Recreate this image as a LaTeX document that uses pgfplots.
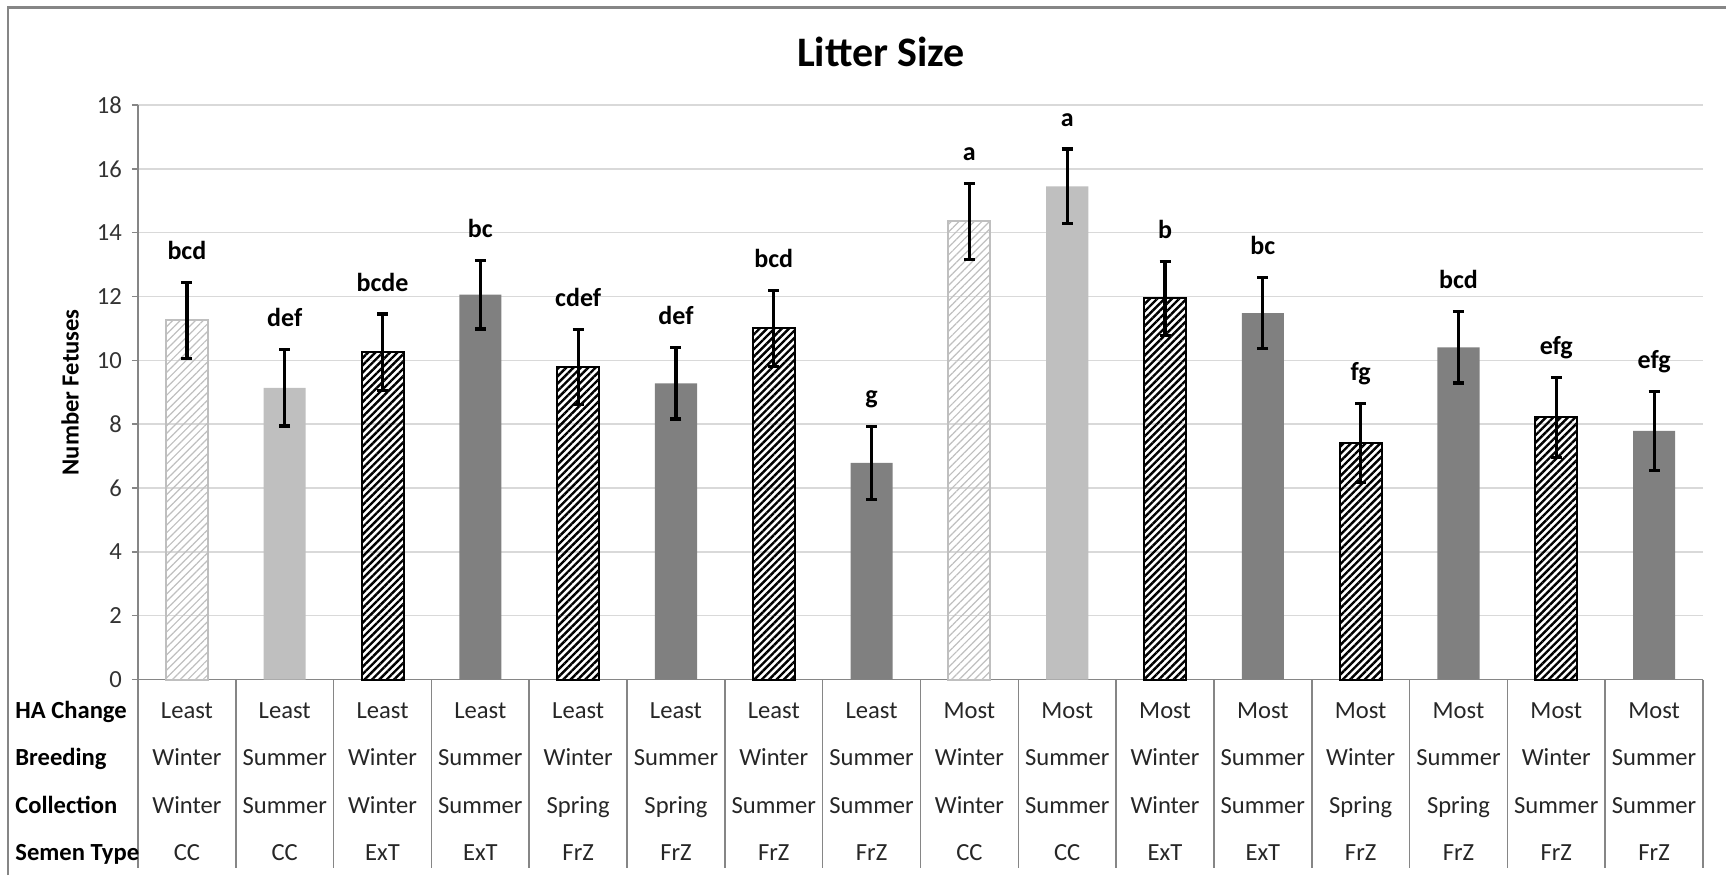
\documentclass[border=0pt]{standalone}
\usepackage{pgfplots}
\pgfplotsset{compat=1.18}
\usepackage{pgfplotstable}
\usepackage{fontspec}
\setmainfont{Carlito}
\usetikzlibrary{patterns.meta}
\definecolor{lgray}{HTML}{BFBFBF}
\definecolor{dgray}{HTML}{808080}
\definecolor{gridc}{HTML}{D9D9D9}
\definecolor{axisc}{HTML}{868686}

\pgfplotstableread{
x val err lab ha br co st
0 11.25 1.20 bcd Least Winter Winter CC
1 9.14 1.20 def Least Summer Summer CC
2 10.25 1.20 bcde Least Winter Winter ExT
3 12.06 1.08 bc Least Summer Summer ExT
4 9.79 1.17 cdef Least Winter Spring FrZ
5 9.28 1.12 def Least Summer Spring FrZ
6 11.00 1.20 bcd Least Winter Summer FrZ
7 6.79 1.14 g Least Summer Summer FrZ
8 14.36 1.19 a Most Winter Winter CC
9 15.45 1.17 a Most Summer Summer CC
10 11.94 1.15 b Most Winter Winter ExT
11 11.48 1.11 bc Most Summer Summer ExT
12 7.41 1.24 fg Most Winter Spring FrZ
13 10.41 1.12 bcd Most Summer Spring FrZ
14 8.21 1.26 efg Most Winter Summer FrZ
15 7.79 1.24 efg Most Summer Summer FrZ
}\datatable

\pgfplotsset{
  errs/.style={error bars/.cd, y dir=both, y explicit,
    error bar style={line width=1.6pt, black},
    error mark options={rotate=90, mark size=2.75pt, line width=1.6pt, black}},
  rowlab/.style={draw=none, fill=none, bar shift=0pt, forget plot,
    nodes near coords, point meta=explicit symbolic,
    nodes near coords style={anchor=base, yshift=#1, text=black!85,
      font=\fontsize{12.3}{14}\selectfont}},
}

\begin{document}
\begin{tikzpicture}
\path[use as bounding box] (-69pt,-97.75pt) rectangle (794pt,339.75pt);
\begin{axis}[
  at={(0,0)}, anchor=south west,
  scale only axis, width=782.5pt, height=287.25pt,
  xmin=-0.5, xmax=15.5, ymin=0, ymax=18,
  ytick={0,2,...,18}, xtick=\empty,
  axis x line*=bottom, axis y line*=left,
  axis line style={-, axisc, line width=0.8pt},
  ymajorgrids, grid style={gridc, line width=0.8pt},
  tick align=outside, major tick length=3pt,
  ytick style={axisc, line width=0.8pt},
  yticklabel style={font=\fontsize{12.3}{14}\selectfont, text=black!80, xshift=-1.5pt},
  /pgf/number format/assume math mode=true,
  ybar, bar width=0.43,
  clip=false,
]
% CC, winter breeding: light grey hatch
\addplot[bar shift=0pt, draw=lgray, line width=1pt,
  pattern={Lines[angle=45,distance=2.7pt,line width=0.6pt]}, pattern color=lgray, errs]
  coordinates {(0,11.25) +- (0,1.20) (8,14.36) +- (0,1.19)};
% CC, summer breeding: light grey solid
\addplot[bar shift=0pt, draw=none, fill=lgray, errs]
  coordinates {(1,9.14) +- (0,1.20) (9,15.45) +- (0,1.17)};
% ExT / FrZ, winter breeding: black hatch
\addplot[bar shift=0pt, draw=black, line width=1pt,
  pattern={Lines[angle=45,distance=2.6pt,line width=1.2pt]}, pattern color=black, errs]
  coordinates {(2,10.25) +- (0,1.20) (4,9.79) +- (0,1.17) (6,11.00) +- (0,1.20)
               (10,11.94) +- (0,1.15) (12,7.41) +- (0,1.24) (14,8.21) +- (0,1.26)};
% ExT / FrZ, summer breeding: dark grey solid
\addplot[bar shift=0pt, draw=none, fill=dgray, errs]
  coordinates {(3,12.06) +- (0,1.08) (5,9.28) +- (0,1.12) (7,6.79) +- (0,1.14)
               (11,11.48) +- (0,1.11) (13,10.41) +- (0,1.12) (15,7.79) +- (0,1.24)};
% significance letters
\addplot[draw=none, fill=none, bar shift=0pt, forget plot,
  nodes near coords, point meta=explicit symbolic,
  nodes near coords style={anchor=base, yshift=11.5pt, text=black,
    font=\bfseries\fontsize{13}{15}\selectfont}]
  table[x=x, y expr=\thisrow{val}+\thisrow{err}, meta=lab] {\datatable};
% category table rows
\addplot[rowlab=-19.4pt] table[x=x, y expr=0, meta=ha] {\datatable};
\addplot[rowlab=-43.2pt] table[x=x, y expr=0, meta=br] {\datatable};
\addplot[rowlab=-66.8pt] table[x=x, y expr=0, meta=co] {\datatable};
\addplot[rowlab=-90.3pt] table[x=x, y expr=0, meta=st] {\datatable};
\end{axis}
% separators of the category table
\foreach \i in {0,...,16} \draw[axisc, line width=0.8pt] (\i*48.90625pt,0) -- ++(0,-94.25pt);
% row headers
\begin{scope}[every node/.style={anchor=base west, font=\bfseries\fontsize{12.3}{14}\selectfont, text=black, inner sep=0pt}]
\node at (-61.5pt,-19.4pt) {HA Change};
\node at (-61.5pt,-43.2pt) {Breeding};
\node at (-61.5pt,-66.8pt) {Collection};
\node at (-61.5pt,-90.3pt) {Semen Type};
\end{scope}
% y label and title
\node[rotate=90, font=\bfseries\fontsize{12.3}{14}\selectfont] at (-34pt,143.6pt) {Number Fetuses};
\node[font=\bfseries\fontsize{21}{25}\selectfont] at (371.5pt,313.75pt) {Litter Size};
% chart border (top and left visible)
\draw[axisc, line width=1.2pt] (-65pt,-97.75pt) -- (-65pt,336pt) -- (794pt,336pt);
\end{tikzpicture}
\end{document}
